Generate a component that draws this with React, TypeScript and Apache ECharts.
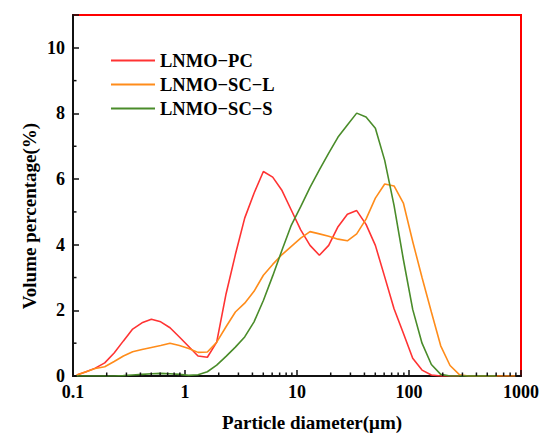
import React, { useEffect, useRef } from "react";
import * as echarts from "echarts";

const sizes = [
  0.108, 0.131, 0.158, 0.192, 0.233, 0.282, 0.341, 0.413, 0.501, 0.607, 0.735, 0.891,
  1.079, 1.307, 1.584, 1.919, 2.325, 2.817, 3.412, 4.134, 5.009, 6.068, 7.352, 8.907,
  10.79, 13.07, 15.84, 19.19, 23.25, 28.17, 34.12, 41.34, 50.09, 60.68, 73.52, 89.07,
  107.9, 130.7, 158.4, 191.9, 232.5, 281.7, 341.2, 413.4, 500.9, 606.8, 735.2, 890.7,
];

const pcValues = [
  0.03, 0.13, 0.24, 0.4, 0.7, 1.07, 1.43, 1.62, 1.73, 1.65, 1.47, 1.19,
  0.9, 0.61, 0.57, 1.03, 2.5, 3.7, 4.81, 5.57, 6.23, 6.06, 5.65, 5.05,
  4.45, 3.98, 3.68, 3.98, 4.55, 4.93, 5.04, 4.62, 3.98, 3.02, 2.05, 1.3,
  0.54, 0.18, 0.03, 0, 0, 0,
];

const sclValues = [
  0.03, 0.13, 0.23, 0.28, 0.44, 0.61, 0.74, 0.81, 0.87, 0.93, 1.0, 0.93,
  0.84, 0.72, 0.73, 1.03, 1.5, 1.95, 2.22, 2.58, 3.07, 3.4, 3.7, 3.95,
  4.2, 4.4, 4.33, 4.26, 4.17, 4.12, 4.33, 4.78, 5.42, 5.85, 5.79, 5.27,
  4.1, 3.0, 1.95, 0.92, 0.32, 0.04, 0, 0, 0, 0, 0, 0,
];

const scsValues = [
  0, 0, 0, 0, 0, 0.01, 0.03, 0.05, 0.07, 0.08, 0.07, 0.05,
  0.02, 0.04, 0.13, 0.33, 0.6, 0.88, 1.19, 1.65, 2.3, 3.05, 3.84, 4.6,
  5.16, 5.75, 6.28, 6.79, 7.28, 7.65, 8.01, 7.89, 7.55, 6.57, 5.2, 3.55,
  2.03, 1.0, 0.35, 0.05, 0, 0, 0, 0, 0, 0,
];

const seriesNames = ["LNMO\u2212PC", "LNMO\u2212SC\u2212L", "LNMO\u2212SC\u2212S"];
const seriesColors = ["#ff3333", "#ff8c1a", "#4a8c2a"];

const xMinorTicks = [
  0.2, 0.3, 0.4, 0.5, 0.6, 0.7, 0.8, 0.9,
  2, 3, 4, 5, 6, 7, 8, 9,
  20, 30, 40, 50, 60, 70, 80, 90,
  200, 300, 400, 500, 600, 700, 800, 900,
];
const yMinorTicks = [1, 3, 5, 7, 9];

const X_MIN = 0.1;
const X_MAX = 1000;
const Y_MIN = 0;
const Y_MAX = 11;

const FONT = "'Times New Roman', 'Liberation Serif', serif";
const INK = "#111111";

function pairs(vals: number[]) {
  return vals.map((v, i) => [sizes[i], v]);
}

export default function App() {
  const ref = useRef<HTMLDivElement>(null);
  useEffect(() => {
    if (!ref.current) return;
    const chart = echarts.init(ref.current, undefined, { renderer: "svg" });
    const valueSets = [pcValues, sclValues, scsValues];
    chart.setOption({
      animation: false,
      grid: {
        left: 73,
        top: 15,
        width: 448,
        height: 361,
        show: true,
        borderColor: "#ff0000",
        borderWidth: 2,
      },
      legend: {
        data: seriesNames,
        orient: "vertical",
        left: 111,
        top: 51,
        padding: 0,
        icon: "rect",
        itemWidth: 44,
        itemHeight: 2,
        itemGap: 5,
        textStyle: { fontFamily: FONT, fontWeight: "bold", fontSize: 18.5, color: "#000" },
      },
      xAxis: {
        type: "log",
        logBase: 10,
        min: X_MIN,
        max: X_MAX,
        axisLine: { show: true, onZero: false, lineStyle: { color: INK, width: 2 } },
        axisTick: { show: true, inside: true, length: 6, lineStyle: { color: INK, width: 1.5 } },
        axisLabel: {
          margin: 7,
          fontFamily: FONT,
          fontWeight: "bold",
          fontSize: 18,
          color: "#000",
          formatter: (v: number) => String(v),
        },
        splitLine: { show: false },
      },
      yAxis: {
        type: "value",
        min: Y_MIN,
        max: Y_MAX,
        interval: 2,
        axisLine: { show: true, onZero: false, lineStyle: { color: INK, width: 2 } },
        axisTick: { show: true, inside: true, length: 6, lineStyle: { color: INK, width: 1.5 } },
        axisLabel: {
          margin: 8,
          fontFamily: FONT,
          fontWeight: "bold",
          fontSize: 18,
          color: "#000",
          formatter: (v: number) => (v > 10 ? "" : String(v)),
        },
        splitLine: { show: false },
      },
      graphic: [
        {
          type: "text",
          x: 312,
          y: 422,
          style: {
            text: "Particle diameter(\u03bcm)",
            font: `bold 19px ${FONT}`,
            fill: "#000",
            textAlign: "center",
            textVerticalAlign: "middle",
          },
        },
        {
          type: "text",
          x: 29,
          y: 216,
          rotation: Math.PI / 2,
          style: {
            text: "Volume percentage(%)",
            font: `bold 19px ${FONT}`,
            fill: "#000",
            textAlign: "center",
            textVerticalAlign: "middle",
          },
        },
      ],
      series: [
        ...seriesNames.map((name, i) => ({
          name,
          type: "line",
          data: pairs(valueSets[i]),
          symbol: "none",
          lineStyle: { color: seriesColors[i], width: 1.6 },
          itemStyle: { color: seriesColors[i] },
          z: 3,
        })),
        {
          type: "custom",
          name: "xminor",
          data: xMinorTicks.map((v) => [v, 0]),
          renderItem: (_p: any, api: any) => {
            const pt = api.coord([api.value(0), 0]);
            return {
              type: "line",
              shape: { x1: pt[0], y1: pt[1], x2: pt[0], y2: pt[1] - 3.5 },
              style: { stroke: INK, lineWidth: 1.5 },
            };
          },
          z: 4,
        },
        {
          type: "custom",
          name: "yminor",
          data: yMinorTicks.map((v) => [0.1, v]),
          renderItem: (_p: any, api: any) => {
            const pt = api.coord([0.1, api.value(1)]);
            return {
              type: "line",
              shape: { x1: pt[0], y1: pt[1], x2: pt[0] + 3.5, y2: pt[1] },
              style: { stroke: INK, lineWidth: 1.5 },
            };
          },
          z: 4,
        },
      ],
    });
    return () => chart.dispose();
  }, []);
  return <div ref={ref} style={{ position: "absolute", left: 0, top: 0, width: 550, height: 441 }} />;
}
